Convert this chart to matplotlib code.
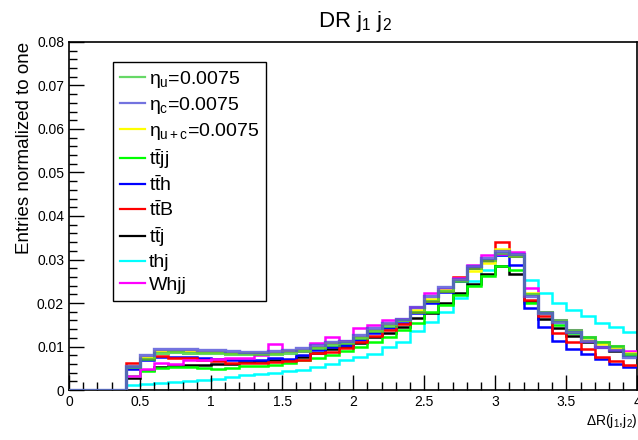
import numpy as np
import matplotlib
matplotlib.use("Agg")
import matplotlib.pyplot as plt
from matplotlib.ticker import MultipleLocator, FixedLocator, FuncFormatter

plt.rcParams['font.family'] = ['Liberation Sans', 'DejaVu Sans']
plt.rcParams['mathtext.fontset'] = 'custom'
plt.rcParams['mathtext.rm'] = 'Liberation Sans'
plt.rcParams['mathtext.it'] = 'Liberation Sans'
plt.rcParams['mathtext.bf'] = 'Liberation Sans:bold'

# bin edges 0..4 in steps of 0.1 (first 4 bins empty)
edges = np.round(np.arange(0, 4.0001, 0.1), 2)
zeros4 = [0.0, 0.0, 0.0, 0.0]

eta_c = zeros4 + [0.0056, 0.0080, 0.0094, 0.0094, 0.0095, 0.0092, 0.0091, 0.0090, 0.0088, 0.0088,
                  0.0089, 0.0093, 0.0096, 0.0103, 0.0110, 0.0113, 0.0126, 0.0142, 0.0155, 0.0164,
                  0.0190, 0.0215, 0.0236, 0.0255, 0.0286, 0.0304, 0.0320, 0.0313, 0.0216, 0.0178,
                  0.0157, 0.0134, 0.0113, 0.0100, 0.0092, 0.0075]
eta_u = zeros4 + [0.0054, 0.0072, 0.0086, 0.0087, 0.0086, 0.0085, 0.0084, 0.0083, 0.0082, 0.0082,
                  0.0083, 0.0086, 0.0090, 0.0097, 0.0104, 0.0108, 0.0120, 0.0135, 0.0148, 0.0160,
                  0.0180, 0.0205, 0.0228, 0.0250, 0.0280, 0.0300, 0.0316, 0.0308, 0.0220, 0.0180,
                  0.0160, 0.0138, 0.0121, 0.0111, 0.0101, 0.0082]
eta_uc = zeros4 + [0.0055, 0.0076, 0.0090, 0.0090, 0.0090, 0.0088, 0.0087, 0.0086, 0.0085, 0.0085,
                   0.0086, 0.0089, 0.0093, 0.0100, 0.0107, 0.0111, 0.0123, 0.0138, 0.0151, 0.0162,
                   0.0185, 0.0210, 0.0230, 0.0252, 0.0274, 0.0293, 0.0325, 0.0310, 0.0222, 0.0178,
                   0.0158, 0.0136, 0.0116, 0.0105, 0.0096, 0.0085]
ttjj = zeros4 + [0.0033, 0.0044, 0.0051, 0.0052, 0.0053, 0.0051, 0.0049, 0.0050, 0.0055, 0.0056,
                 0.0057, 0.0061, 0.0068, 0.0074, 0.0080, 0.0090, 0.0100, 0.0111, 0.0123, 0.0138,
                 0.0153, 0.0180, 0.0195, 0.0218, 0.0238, 0.0262, 0.0285, 0.0276, 0.0200, 0.0178,
                 0.0150, 0.0132, 0.0121, 0.0111, 0.0101, 0.0080]
tth = zeros4 + [0.0048, 0.0070, 0.0075, 0.0076, 0.0075, 0.0073, 0.0071, 0.0070, 0.0068, 0.0069,
                0.0073, 0.0072, 0.0080, 0.0091, 0.0098, 0.0104, 0.0115, 0.0130, 0.0142, 0.0155,
                0.0178, 0.0200, 0.0225, 0.0250, 0.0280, 0.0296, 0.0310, 0.0287, 0.0189, 0.0145,
                0.0113, 0.0094, 0.0083, 0.0071, 0.0060, 0.0052]
ttB = zeros4 + [0.0062, 0.0074, 0.0078, 0.0074, 0.0073, 0.0069, 0.0067, 0.0062, 0.0061, 0.0062,
                0.0065, 0.0067, 0.0070, 0.0084, 0.0088, 0.0096, 0.0110, 0.0125, 0.0138, 0.0152,
                0.0180, 0.0205, 0.0228, 0.0259, 0.0280, 0.0300, 0.0340, 0.0307, 0.0208, 0.0169,
                0.0132, 0.0111, 0.0094, 0.0077, 0.0067, 0.0057]
ttj = zeros4 + [0.0028, 0.0045, 0.0054, 0.0055, 0.0057, 0.0057, 0.0059, 0.0060, 0.0065, 0.0066,
                0.0068, 0.0069, 0.0076, 0.0086, 0.0094, 0.0100, 0.0107, 0.0121, 0.0132, 0.0145,
                0.0166, 0.0178, 0.0199, 0.0222, 0.0244, 0.0266, 0.0285, 0.0266, 0.0205, 0.0163,
                0.0142, 0.0124, 0.0110, 0.0100, 0.0090, 0.0080]
thj = zeros4 + [0.0011, 0.0014, 0.0017, 0.0019, 0.0021, 0.0024, 0.0026, 0.0030, 0.0034, 0.0037,
                0.0040, 0.0044, 0.0047, 0.0052, 0.0059, 0.0069, 0.0075, 0.0083, 0.0100, 0.0111,
                0.0135, 0.0156, 0.0180, 0.0211, 0.0250, 0.0276, 0.0310, 0.0312, 0.0254, 0.0222,
                0.0201, 0.0184, 0.0170, 0.0155, 0.0144, 0.0134]
whjj = zeros4 + [0.0033, 0.0048, 0.0063, 0.0059, 0.0069, 0.0070, 0.0072, 0.0073, 0.0073, 0.0080,
                 0.0105, 0.0090, 0.0090, 0.0109, 0.0121, 0.0112, 0.0142, 0.0149, 0.0161, 0.0164,
                 0.0190, 0.0222, 0.0232, 0.0257, 0.0288, 0.0311, 0.0312, 0.0317, 0.0234, 0.0180,
                 0.0162, 0.0138, 0.0112, 0.0100, 0.0094, 0.0090]

labels = [r'$\eta_{\rm u}$=0.0075', r'$\eta_{\rm c}$=0.0075', r'$\eta_{\rm u+c}$=0.0075',
          r'$\rm t\bar{t}jj$', r'$\rm t\bar{t}h$', r'$\rm t\bar{t}B$', r'$\rm t\bar{t}j$',
          'thj', 'Whjj']

xticks = [0, 0.5, 1, 1.5, 2, 2.5, 3, 3.5, 4]
yticks = [0, 0.01, 0.02, 0.03, 0.04, 0.05, 0.06, 0.07, 0.08]

fig = plt.figure(figsize=(6.38, 4.40), dpi=100)
ax = fig.add_axes([0.108, 0.1136, 0.891, 0.791])

# (data, color, lw, alpha, zorder)
series = [
    (eta_u, '#33cc33', 2.2, 0.75, 8),
    (eta_c, '#5050d8', 2.4, 0.8, 9),
    (eta_uc, '#ffff00', 1.8, 1.0, 7),
    (ttjj, '#00ff00', 1.8, 1.0, 3),
    (tth, '#0000ff', 1.8, 1.0, 4),
    (ttB, '#ff0000', 1.8, 1.0, 5),
    (ttj, '#000000', 1.8, 1.0, 2),
    (thj, '#00ffff', 1.8, 1.0, 1),
    (whjj, '#ff00ff', 1.8, 1.0, 6),
]
handles = []
for (vals, col, lw, a, z), lab in zip(series, labels):
    ax.stairs(vals, edges, baseline=None, color=col, lw=lw, alpha=a, zorder=z)
    h, = ax.plot([], [], color=col, lw=1.6, alpha=a, label=lab)
    handles.append(h)

ax.set_xlim(0, 4)
ax.set_ylim(0, 0.08)
ax.xaxis.set_major_locator(FixedLocator(xticks))
ax.xaxis.set_minor_locator(MultipleLocator(0.1))
ax.yaxis.set_major_locator(FixedLocator(yticks))
ax.yaxis.set_minor_locator(MultipleLocator(0.002))
ax.xaxis.set_major_formatter(FuncFormatter(lambda v, p: ('%g' % v)))
ax.yaxis.set_major_formatter(FuncFormatter(lambda v, p: ('%g' % round(v, 3))))
ax.tick_params(which='both', direction='in', top=False, right=False, labelsize=10, width=1)
ax.tick_params(which='major', length=11)
ax.tick_params(which='minor', length=5.5)
for s in ax.spines.values():
    s.set_linewidth(1.2)

ax.set_xlabel(r'$\Delta$R(j$_1$,j$_2$)', fontsize=10, loc='right', labelpad=2)
ax.set_ylabel('Entries normalized to one', fontsize=13.5, loc='top', labelpad=3)
fig.text(0.556, 0.952, r'DR j$_1$ j$_2$', fontsize=16, ha='center', va='center')

leg = ax.legend(handles=handles, loc='upper left', bbox_to_anchor=(0.0775, 0.9425),
                borderaxespad=0, fontsize=14, frameon=True, fancybox=False,
                edgecolor='black', framealpha=1, handlelength=1.3, handletextpad=0.2,
                labelspacing=0.26, borderpad=0.35)
leg.get_frame().set_linewidth(1.0)
leg.set_zorder(20)

fig.savefig('out.png', dpi=100)
